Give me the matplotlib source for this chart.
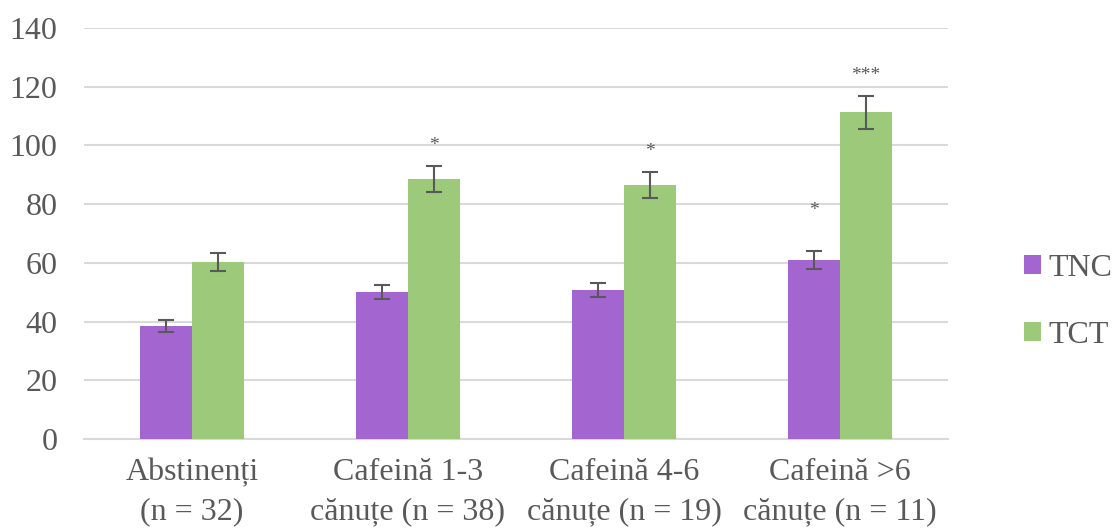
import matplotlib
matplotlib.use("Agg")
import matplotlib.pyplot as plt
import numpy as np

categories = ["Abstinenți\n(n = 32)", "Cafeină 1-3\ncănuțe (n = 38)",
              "Cafeină 4-6\ncănuțe (n = 19)", "Cafeină >6\ncănuțe (n = 11)"]
tnc = [38.5, 50.1, 50.7, 61.0]
tnc_err = [2.0, 2.5, 2.5, 3.0]
tct = [60.3, 88.6, 86.5, 111.3]
tct_err = [3.0, 4.5, 4.4, 5.6]
tnc_sig = ["", "", "", "*"]
tct_sig = ["", "*", "*", "***"]
yticks = [0, 20, 40, 60, 80, 100, 120, 140]

purple = "#A366D1"
green = "#9CC97A"
gray = "#595959"
textc = "#595959"

plt.rcParams['font.family'] = ['Liberation Serif', 'DejaVu Serif']

fig = plt.figure(figsize=(11.13, 5.29), dpi=100)
ax = fig.add_axes([84/1113, 90/529, (948-84)/1113, (501-90)/529])

x = np.arange(len(categories))
w = 0.24
b1 = ax.bar(x - w/2, tnc, w, color=purple, label="TNC", zorder=3,
            yerr=tnc_err, error_kw=dict(ecolor=gray, elinewidth=1.5, capsize=6, capthick=1.5, zorder=4))
b2 = ax.bar(x + w/2, tct, w, color=green, label="TCT", zorder=3,
            yerr=tct_err, error_kw=dict(ecolor=gray, elinewidth=1.5, capsize=6, capthick=1.5, zorder=4))

for xi, v, e, s in zip(x - w/2, tnc, tnc_err, tnc_sig):
    if s:
        ax.text(xi, v + e + 14, s, ha="center", va="center", fontsize=14, color=gray, zorder=5)
for xi, v, e, s in zip(x + w/2, tct, tct_err, tct_sig):
    if s:
        ax.text(xi, v + e + 7, s, ha="center", va="center", fontsize=14, color=gray, zorder=5)

ax.set_xlim(-0.5, 3.5)
ax.set_ylim(0, 140)
ax.set_yticks(yticks)
ax.set_xticks(x)
ax.set_xticklabels(categories, fontsize=23, color=textc, linespacing=1.45)
ax.tick_params(axis="y", labelsize=23, labelcolor=textc, length=0, pad=19)
ax.tick_params(axis="x", length=0, pad=14)
ax.grid(axis="y", color="#D9D9D9", linewidth=1.5, zorder=0)
for s in ["top", "right", "left"]:
    ax.spines[s].set_visible(False)
ax.spines["bottom"].set_color("#D9D9D9")
ax.spines["bottom"].set_linewidth(1.5)

fig.legend(handles=[b1, b2], labels=["TNC", "TCT"], loc="center left",
           bbox_to_anchor=(1024/1113, 1 - 302/529), frameon=False,
           fontsize=23, labelcolor=textc, handlelength=0.53, handleheight=0.53,
           labelspacing=1.2, handletextpad=0.25, borderpad=0, borderaxespad=0)

fig.savefig("out.png", dpi=100)
